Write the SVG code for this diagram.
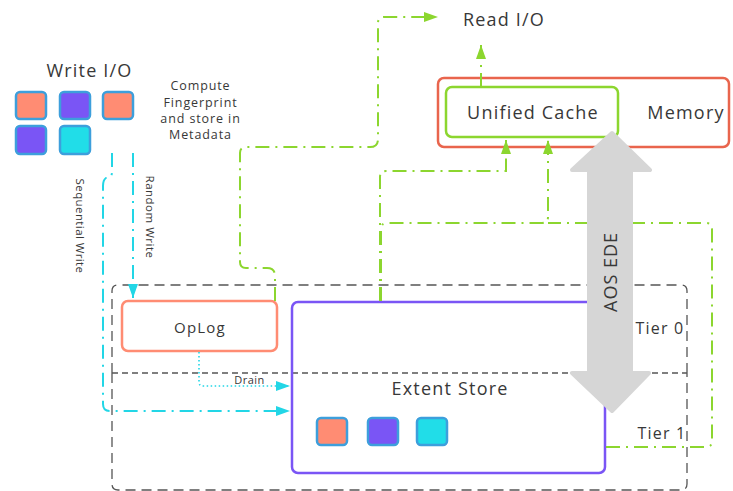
<svg xmlns="http://www.w3.org/2000/svg" width="733" height="491" viewBox="0 0 733 491">
<style>
text{font-family:"Open Sans","Noto Sans","DejaVu Sans",sans-serif;fill:#383838}
.ls{letter-spacing:1.2px}
.sq{stroke:#3d9fdc;stroke-width:2.5}
.or{fill:#ff8c73}.pu{fill:#7a55f5}.cy{fill:#21dde8}
.tier{fill:none;stroke:#555;stroke-width:1.3;stroke-dasharray:10 6}
.gr{fill:none;stroke:#8cd62f;stroke-width:2;stroke-dasharray:14 6 2 6}
.cyl{fill:none;stroke:#22d6e6;stroke-width:2;stroke-dasharray:14 6 2 6}
</style>
<defs>
<marker id="ag" markerUnits="userSpaceOnUse" markerWidth="14" markerHeight="10" refX="14" refY="5" orient="auto"><path d="M0,0 L14,5 L0,10 z" fill="#8cd62f"/></marker>
<marker id="ac" markerUnits="userSpaceOnUse" markerWidth="14" markerHeight="10" refX="14" refY="5" orient="auto"><path d="M0,0 L14,5 L0,10 z" fill="#22d6e6"/></marker>
</defs>

<g id="tiers">
<path class="tier" d="M112,373 V291 Q112,285 118,285 H681 Q687,285 687,291 V373"/>
<path class="tier" d="M112,373 V484 Q112,490 118,490 H681 Q687,490 687,484 V373"/>
<path d="M112,373 H687" fill="none" stroke="#555" stroke-width="1.3" stroke-dasharray="6 4"/>
<text class="ls" x="660" y="334" font-size="16" text-anchor="middle">Tier 0</text>
<text class="ls" x="662" y="439" font-size="16" text-anchor="middle">Tier 1</text>
</g>

<g id="write-io">
<text class="ls" x="89.5" y="77" font-size="18" text-anchor="middle">Write I/O</text>
<rect class="sq or" x="16" y="92" width="30" height="27" rx="4"/>
<rect class="sq pu" x="60" y="92" width="30" height="27" rx="4"/>
<rect class="sq or" x="103" y="92" width="30" height="27" rx="4"/>
<rect class="sq pu" x="16" y="126" width="30" height="28" rx="4"/>
<rect class="sq cy" x="60" y="126" width="30" height="28" rx="4"/>
</g>

<g id="fingerprint-label" font-size="12.5" letter-spacing="0.9">
<text x="200.5" y="90" text-anchor="middle">Compute</text>
<text x="200.5" y="107" text-anchor="middle">Fingerprint</text>
<text x="200.5" y="123" text-anchor="middle">and store in</text>
<text x="200.5" y="139" text-anchor="middle">Metadata</text>
</g>

<g id="memory">
<rect x="438" y="78" width="291" height="69" rx="6" fill="#fff" stroke="#e9654d" stroke-width="2.5"/>
<text class="ls" x="686" y="119" font-size="18" text-anchor="middle">Memory</text>
</g>
<g id="unified-cache">
<rect x="446" y="87" width="172" height="50" rx="6" fill="#fff" stroke="#8cd62f" stroke-width="2.5"/>
<text class="ls" x="533" y="119" font-size="18" text-anchor="middle">Unified Cache</text>
</g>

<g id="read-io">
<text class="ls" x="504" y="26" font-size="18" text-anchor="middle">Read I/O</text>
</g>

<g id="oplog">
<rect x="122" y="301" width="155" height="50" rx="6" fill="#fff" stroke="#ff8c73" stroke-width="2.5"/>
<text class="ls" x="200" y="333" font-size="15" text-anchor="middle">OpLog</text>
</g>

<g id="extent-store">
<rect x="292" y="302" width="313" height="171" rx="6" fill="none" stroke="#7a55f5" stroke-width="2.5"/>
<text class="ls" x="450" y="395" font-size="18" text-anchor="middle">Extent Store</text>
<rect class="sq or" x="317" y="418" width="30" height="27" rx="4"/>
<rect class="sq pu" x="368" y="418" width="30" height="27" rx="4"/>
<rect class="sq cy" x="417" y="418" width="30" height="27" rx="4"/>
</g>

<g id="connectors">
<path class="cyl" d="M112,153 V172 Q112,178 106,178 Q103,180 103,186 V404 Q103,411 110,411 H290" marker-end="url(#ac)"/>
<path class="cyl" d="M133,153 V298" marker-end="url(#ac)"/>
<path d="M199,352 V382 Q199,386 203,386 H290" fill="none" stroke="#22d6e6" stroke-width="1.6" stroke-dasharray="1.5 2.5" marker-end="url(#ac)"/>
<path class="gr" d="M275,301 V276 Q275,268 267,268 H246 Q240,268 240,262 V153 Q240,147 246,147 H370 Q378,147 378,139 V23 Q378,17 384,17 H438" marker-end="url(#ag)"/>
<path class="gr" d="M380,301 V177 Q380,171 386,171 H506 V140" marker-end="url(#ag)"/>
<path class="gr" d="M381,301 V229 Q381,223 387,223 H542 Q548,223 548,217 V140" marker-end="url(#ag)"/>
<path class="gr" d="M606,447 H706 Q712,447 712,441 V229 Q712,223 706,223 H548"/>
<path class="gr" d="M481,87 V45" marker-end="url(#ag)"/>
<text x="249.5" y="384" font-size="11" letter-spacing="0.5" text-anchor="middle">Drain</text>
<text transform="translate(146,217) rotate(90)" font-size="11.5" letter-spacing="0.5" text-anchor="middle">Random Write</text>
<text transform="translate(76,226) rotate(90)" font-size="11.5" letter-spacing="0.4" text-anchor="middle">Sequential Write</text>
</g>

<g id="aos-ede">
<polygon points="612,133 650,170 631,170 631,373 649,373 612,411 572,373 589,373 589,170 572,170" fill="#d6d6d6" stroke="#d6d6d6" stroke-width="4" stroke-linejoin="round"/>
<text transform="translate(617,272) rotate(-90)" font-size="18" letter-spacing="1" text-anchor="middle">AOS EDE</text>
</g>
</svg>
